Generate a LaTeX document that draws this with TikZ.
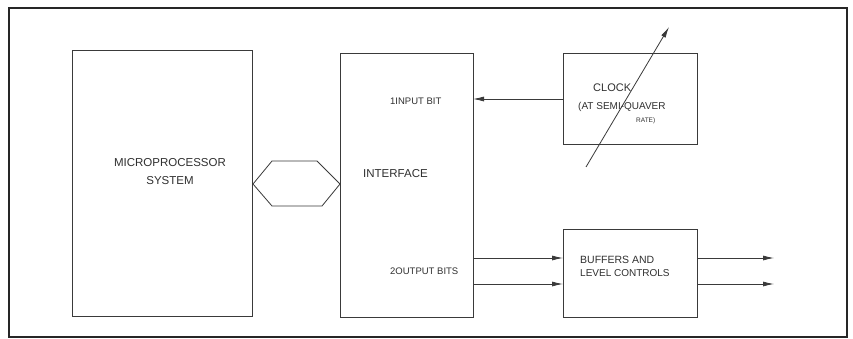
\documentclass[tikz,border=0pt]{standalone}
\usepackage{fontspec}
\setmainfont{Liberation Sans}
\usetikzlibrary{arrows.meta}
\definecolor{ink}{HTML}{3A3A3A}
\definecolor{txt}{HTML}{303030}
\begin{document}
\begin{tikzpicture}[x=1pt,y=-1pt,
  blk/.style={draw=ink, line width=0.8pt, rectangle, inner sep=0pt, anchor=north west},
  lbl/.style={text=txt, inner sep=0pt, anchor=base west},
  arr/.style={draw=ink, line width=0.8pt, -{Latex[length=11pt,width=5pt]}},
  frame/.style={draw=black!85, line width=2.2pt}
]
\useasboundingbox[fill=white] (0,0) rectangle (853,338);
\draw[frame] (9,8) rectangle (847,337);

% blocks
\node[blk, minimum width=180pt, minimum height=266pt] (mp) at (72,50) {};
\node[blk, minimum width=133pt, minimum height=264pt] (if) at (340,53) {};
\node[blk, minimum width=134pt, minimum height=91pt] (clk) at (563,53) {};
\node[blk, minimum width=134pt, minimum height=88pt] (buf) at (563,229) {};

% labels
\node[text=txt, inner sep=0pt, align=center, font=\fontsize{11.5}{18}\selectfont] (mpt) at (170,172) {MICROPROCESSOR\\SYSTEM};
\node[lbl, font=\fontsize{11.5}{13}\selectfont] (ift) at (363,177) {INTERFACE};
\node[lbl, font=\fontsize{9.5}{11}\selectfont] (inb) at (390,104) {1INPUT BIT};
\node[lbl, font=\fontsize{9.5}{11}\selectfont] (outb) at (390,274) {2OUTPUT BITS};
\node[lbl, font=\fontsize{11}{13}\selectfont] (clkt) at (593,91) {CLOCK};
\node[lbl, font=\fontsize{10}{12}\selectfont] (clkr) at (578,109) {(AT SEMI-QUAVER};
\node[lbl, font=\fontsize{6.5}{8}\selectfont] (clkr2) at (636,122) {RATE)};
\node[lbl, font=\fontsize{10.5}{12}\selectfont] (buft) at (580,263) {BUFFERS AND};
\node[lbl, font=\fontsize{10}{12}\selectfont] (buft2) at (580,276) {LEVEL CONTROLS};

% bus hexagon between microprocessor and interface
\coordinate (hl) at (253,184);
\coordinate (hr) at (340,184);
\draw[draw=ink, line width=0.8pt] (hl) -- (272,161) -- (317,161) -- (hr) -- (322,206) -- (272,206) -- cycle;

% input bit from clock
\coordinate (inl) at (473,99);
\coordinate (inr) at (563,99);
\draw[arr] (inr) -- (inl);

% output bits
\coordinate (o1a) at (473,258);
\coordinate (o1b) at (563,258);
\coordinate (o2a) at (473,284);
\coordinate (o2b) at (563,284);
\draw[arr] (o1a) -- (o1b);
\draw[arr] (o2a) -- (o2b);
\coordinate (p1a) at (697,258);
\coordinate (p1b) at (774,258);
\coordinate (p2a) at (697,284);
\coordinate (p2b) at (774,284);
\draw[arr] (p1a) -- (p1b);
\draw[arr] (p2a) -- (p2b);

% variable-rate arrow across clock
\coordinate (vt) at (586,167);
\coordinate (vh) at (669,27);
\draw[arr] (vt) -- (vh);
\end{tikzpicture}
\end{document}
